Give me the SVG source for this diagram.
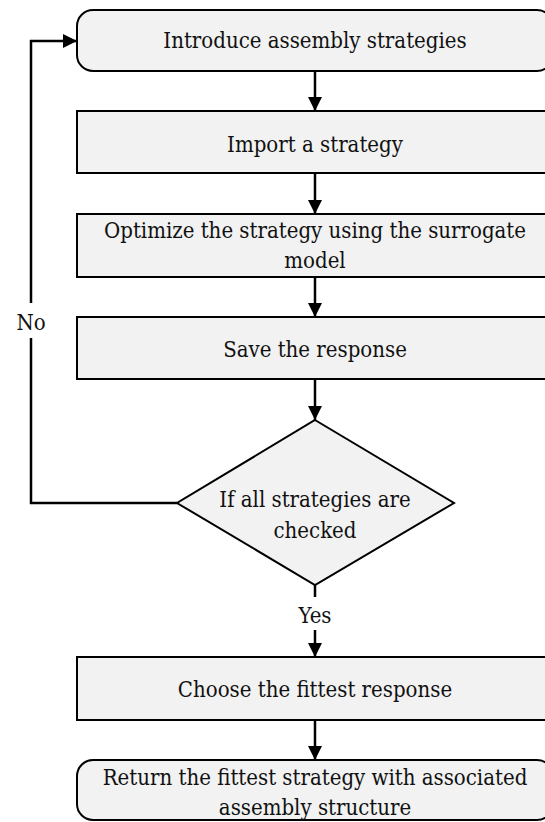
<svg xmlns="http://www.w3.org/2000/svg" width="545" height="822" viewBox="0 0 545 822">
<style>
.box{fill:#f2f2f2;stroke:#000;stroke-width:2}
text{font-family:'DejaVu Serif Condensed','DejaVu Serif',serif;font-stretch:condensed;font-size:22px;fill:#111;text-anchor:middle}
.c{fill:none;stroke:#000;stroke-width:2.5}
</style>
<defs>
<marker id="ah" markerWidth="14" markerHeight="14" viewBox="0 0 14 14" refX="14" refY="7" orient="auto" markerUnits="userSpaceOnUse">
<path d="M0,0 L14,7 L0,14 Z" fill="#000"/>
</marker>
</defs>
<g id="connectors">
<line class="c" x1="315" y1="71" x2="315" y2="111" marker-end="url(#ah)"/>
<line class="c" x1="315" y1="173" x2="315" y2="214" marker-end="url(#ah)"/>
<line class="c" x1="315" y1="277" x2="315" y2="317" marker-end="url(#ah)"/>
<line class="c" x1="315" y1="379" x2="315" y2="420" marker-end="url(#ah)"/>
<line class="c" x1="315" y1="585" x2="315" y2="597"/>
<line class="c" x1="315" y1="630" x2="315" y2="657" marker-end="url(#ah)"/>
<line class="c" x1="315" y1="720" x2="315" y2="760" marker-end="url(#ah)"/>
<polyline class="c" points="177,503 31,503 31,338"/>
<polyline class="c" points="31,303 31,41 77,41" marker-end="url(#ah)"/>
<text x="31" y="330">No</text>
<text x="315" y="623">Yes</text>
</g>
<g id="n1">
<rect class="box" x="77" y="10" width="476" height="61" rx="16" ry="16"/>
<text x="315" y="48">Introduce assembly strategies</text>
</g>
<g id="n2">
<rect class="box" x="77" y="111" width="476" height="62"/>
<text x="315" y="152">Import a strategy</text>
</g>
<g id="n3">
<rect class="box" x="77" y="214" width="476" height="63"/>
<text x="315" y="238">Optimize the strategy using the surrogate</text>
<text x="315" y="268">model</text>
</g>
<g id="n4">
<rect class="box" x="77" y="317" width="476" height="62"/>
<text x="315" y="357">Save the response</text>
</g>
<g id="n5">
<polygon class="box" points="315,420 454,503 315,585 177,503"/>
<text x="315" y="507">If all strategies are</text>
<text x="315" y="538">checked</text>
</g>
<g id="n6">
<rect class="box" x="77" y="657" width="476" height="63"/>
<text x="315" y="697">Choose the fittest response</text>
</g>
<g id="n7">
<rect class="box" x="77" y="760" width="476" height="60" rx="16" ry="16"/>
<text x="315" y="785">Return the fittest strategy with associated</text>
<text x="315" y="815">assembly structure</text>
</g>
</svg>
